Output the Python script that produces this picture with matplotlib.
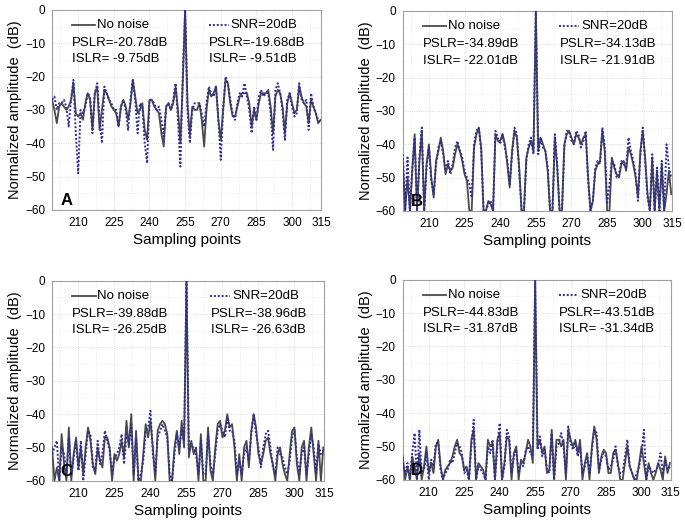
import numpy as np
import matplotlib
matplotlib.use("Agg")
import matplotlib.pyplot as plt
from matplotlib.ticker import MultipleLocator

plt.rcParams['font.family'] = ['Liberation Sans', 'DejaVu Sans']

# sampling points shown in every panel
samples = list(range(199, 313))

# panel A (weakest window)
a_clean = [-27, -30, -34, -29, -28, -29, -30, -29, -27, -22, -31, -32, -31, -33, -28, -25, -27, -36, -25, -23,
           -36, -30, -24, -25, -27, -29, -30, -31, -35, -29, -27, -29, -33, -28, -21, -26, -31, -30, -28, -36,
           -39, -27, -27, -29, -30, -31, -37, -41, -29, -28, -30, -28, -23, -30, -40, -22, 0, -28, -38, -29,
           -30, -30, -28, -33, -41, -30, -24, -26, -25, -23, -33, -39, -30, -21, -22, -28, -32, -32, -29, -26,
           -25, -25, -25, -28, -35, -30, -33, -28, -25, -25, -25, -24, -29, -37, -26, -24, -25, -29, -37, -28,
           -25, -28, -31, -30, -23, -26, -28, -29, -34, -27, -29, -31, -34, -33]
a_noisy = [-27, -26, -30, -28, -28, -27, -29, -35, -27, -21, -37, -49, -30, -31, -29, -25, -26, -37, -25, -22,
           -33, -40, -23, -25, -27, -28, -30, -30, -35, -29, -27, -30, -36, -27, -21, -27, -37, -28, -29, -40,
           -46, -27, -27, -28, -30, -29, -33, -38, -29, -28, -30, -27, -22, -33, -47, -20, 0, -30, -40, -30,
           -28, -28, -28, -31, -35, -28, -23, -25, -26, -23, -33, -45, -30, -20, -22, -27, -31, -33, -28, -25,
           -26, -22, -26, -30, -37, -29, -33, -26, -24, -26, -25, -25, -31, -42, -24, -22, -25, -30, -39, -27,
           -25, -29, -32, -31, -22, -27, -28, -27, -36, -25, -29, -31, -33, -34]

# panel B
b_clean = [-45, -60, -50, -60, -48, -37, -60, -45, -36, -60, -46, -40, -50, -56, -45, -42, -38, -42, -49, -46,
           -48, -47, -43, -40, -42, -45, -49, -51, -60, -60, -41, -37, -35, -41, -60, -60, -57, -58, -60, -37,
           -39, -39, -37, -40, -46, -53, -42, -36, -38, -47, -60, -60, -44, -41, -39, -42, 0, -42, -38, -40,
           -42, -48, -60, -60, -38, -47, -60, -60, -40, -37, -36, -38, -40, -37, -38, -40, -38, -37, -50, -60,
           -57, -48, -46, -45, -36, -42, -60, -60, -44, -47, -49, -50, -46, -45, -48, -41, -43, -46, -50, -56,
           -42, -36, -44, -55, -60, -44, -60, -48, -60, -46, -60, -55, -48, -55]
b_noisy = [-43, -60, -44, -60, -47, -38, -60, -44, -35, -60, -47, -41, -51, -55, -46, -41, -39, -43, -48, -45,
           -49, -46, -41, -39, -42, -44, -48, -50, -52, -56, -40, -36, -35, -42, -60, -60, -58, -57, -60, -36,
           -38, -40, -37, -41, -45, -52, -43, -35, -37, -48, -60, -60, -45, -40, -38, -43, 0, -43, -38, -41,
           -42, -47, -60, -60, -37, -46, -60, -60, -41, -36, -36, -39, -40, -36, -37, -41, -39, -36, -51, -60,
           -57, -47, -45, -46, -35, -41, -58, -52, -45, -46, -50, -49, -45, -46, -47, -38, -42, -45, -49, -57,
           -43, -35, -45, -56, -60, -43, -60, -47, -60, -45, -60, -40, -47, -50]

# panel C
c_clean = [-50, -60, -56, -60, -46, -55, -60, -44, -60, -52, -47, -56, -50, -58, -50, -44, -48, -55, -58, -50,
           -54, -56, -47, -47, -50, -60, -52, -54, -52, -48, -53, -42, -50, -40, -60, -45, -60, -60, -52, -43,
           -47, -42, -50, -60, -45, -43, -42, -43, -46, -60, -60, -50, -45, -52, -42, -50, 0, -53, -48, -52,
           -50, -60, -46, -60, -60, -44, -57, -60, -50, -43, -42, -47, -45, -40, -44, -43, -50, -60, -52, -60,
           -50, -48, -56, -45, -40, -44, -52, -55, -52, -48, -47, -52, -55, -60, -52, -50, -55, -58, -60, -52,
           -45, -44, -55, -60, -50, -48, -60, -50, -44, -52, -60, -48, -60, -50]
c_noisy = [-52, -50, -48, -60, -50, -52, -58, -47, -58, -53, -48, -57, -48, -60, -52, -45, -46, -56, -57, -48,
           -55, -52, -45, -48, -51, -58, -53, -52, -50, -46, -55, -46, -49, -43, -58, -47, -60, -58, -54, -45,
           -44, -39, -52, -58, -47, -45, -43, -45, -47, -58, -60, -52, -46, -50, -45, -48, 0, -51, -50, -50,
           -52, -58, -48, -58, -58, -46, -55, -58, -52, -45, -43, -45, -47, -41, -45, -45, -48, -58, -54, -58,
           -52, -50, -54, -46, -40, -46, -50, -56, -50, -46, -45, -50, -56, -58, -50, -52, -53, -56, -58, -54,
           -47, -45, -53, -58, -52, -50, -58, -52, -46, -50, -58, -49, -52, -51]

# panel D (strongest window)
d_clean = [-53, -60, -56, -60, -53, -56, -60, -52, -60, -56, -50, -58, -55, -58, -50, -48, -56, -60, -57, -56,
           -55, -53, -50, -48, -52, -53, -57, -56, -60, -48, -45, -60, -55, -56, -57, -60, -48, -50, -49, -60,
           -48, -46, -60, -55, -47, -48, -60, -52, -50, -60, -54, -55, -52, -48, -50, -55, 0, -50, -48, -52,
           -50, -58, -57, -45, -60, -48, -48, -50, -48, -60, -45, -48, -50, -48, -52, -48, -60, -55, -52, -60,
           -50, -44, -48, -58, -53, -51, -52, -58, -58, -52, -51, -55, -60, -60, -55, -50, -56, -58, -60, -60,
           -55, -50, -55, -60, -55, -58, -60, -58, -55, -57, -60, -53, -58, -55]
d_noisy = [-55, -58, -55, -60, -52, -46, -60, -45, -58, -57, -52, -60, -54, -56, -49, -49, -57, -60, -58, -57,
           -54, -55, -52, -49, -50, -52, -58, -57, -60, -50, -42, -60, -56, -57, -58, -60, -50, -52, -48, -60,
           -50, -43, -60, -56, -45, -47, -58, -53, -51, -58, -55, -56, -51, -50, -52, -53, 0, -51, -47, -53,
           -51, -57, -58, -46, -60, -50, -49, -46, -50, -58, -44, -49, -51, -49, -53, -50, -58, -56, -53, -58,
           -51, -45, -46, -57, -54, -52, -53, -57, -56, -54, -50, -56, -58, -58, -53, -48, -56, -58, -60, -58,
           -56, -52, -45, -60, -56, -57, -58, -57, -56, -52, -58, -54, -57, -56]

letters = ['A', 'B', 'C', 'D']
pslr_clean = ['-20.78', '-34.89', '-39.88', '-44.83']
islr_clean = [' -9.75', ' -22.01', ' -26.25', ' -31.87']
pslr_noisy = ['-19.68', '-34.13', '-38.96', '-43.51']
islr_noisy = [' -9.51', ' -21.91', ' -26.63', ' -31.34']
clean_all = [a_clean, b_clean, c_clean, d_clean]
noisy_all = [a_noisy, b_noisy, c_noisy, d_noisy]

fig = plt.figure(figsize=(6.85, 5.22), dpi=100)
boxes = [[0.076, 0.598, 0.393, 0.383], [0.588, 0.596, 0.393, 0.383],
         [0.076, 0.079, 0.397, 0.383], [0.588, 0.081, 0.391, 0.383]]

for i in range(4):
    ax = fig.add_axes(boxes[i])
    ax.plot(samples, clean_all[i], color='#4a4a4a', lw=1.3, zorder=3)
    ax.plot(samples, noisy_all[i], color='#2e2e96', lw=1.4, ls=(0, (1, 1)), zorder=4)
    ax.set_xlim(199, 312.3)
    ax.set_ylim(-60, 0)
    ax.set_xticks([210, 225, 240, 255, 270, 285, 300, 312.3])
    ax.set_xticklabels(['210', '225', '240', '255', '270', '285', '300', '315'])
    ax.set_yticks(range(-60, 1, 10))
    ax.xaxis.set_minor_locator(MultipleLocator(7.5))
    ax.yaxis.set_minor_locator(MultipleLocator(5))
    ax.grid(True, which='major', color='#d0d0d0', lw=0.6, ls=':')
    ax.grid(True, which='minor', color='#e4e4e4', lw=0.5, ls=':')
    ax.tick_params(which='both', direction='in', length=0, labelsize=8.5, pad=5)
    for s in ax.spines.values():
        s.set_color('#a0a0a0')
    ax.set_xlabel('Sampling points', fontsize=11, labelpad=3)
    ax.set_ylabel('Normalized amplitude  (dB)', fontsize=10.5, labelpad=2)

    # legend-like annotations
    ax.plot([0.074, 0.161], [0.923, 0.923], transform=ax.transAxes, color='#4a4a4a', lw=1.3)
    ax.text(0.167, 0.923, 'No noise', transform=ax.transAxes, fontsize=9.5, va='center')
    ax.text(0.074, 0.835, 'PSLR=' + pslr_clean[i] + 'dB', transform=ax.transAxes, fontsize=9.5, va='center')
    ax.text(0.074, 0.752, 'ISLR=' + islr_clean[i] + 'dB', transform=ax.transAxes, fontsize=9.5, va='center')
    ax.plot([0.582, 0.656], [0.923, 0.923], transform=ax.transAxes, color='#2e2e96', lw=1.4, ls=(0, (1, 1)))
    ax.text(0.662, 0.923, 'SNR=20dB', transform=ax.transAxes, fontsize=9.5, va='center')
    ax.text(0.584, 0.835, 'PSLR=' + pslr_noisy[i] + 'dB', transform=ax.transAxes, fontsize=9.5, va='center')
    ax.text(0.584, 0.752, 'ISLR=' + islr_noisy[i] + 'dB', transform=ax.transAxes, fontsize=9.5, va='center')
    ax.text(0.03, 0.025, letters[i], transform=ax.transAxes, fontsize=12, fontweight='bold', zorder=6)

fig.savefig('out.png', dpi=100)
